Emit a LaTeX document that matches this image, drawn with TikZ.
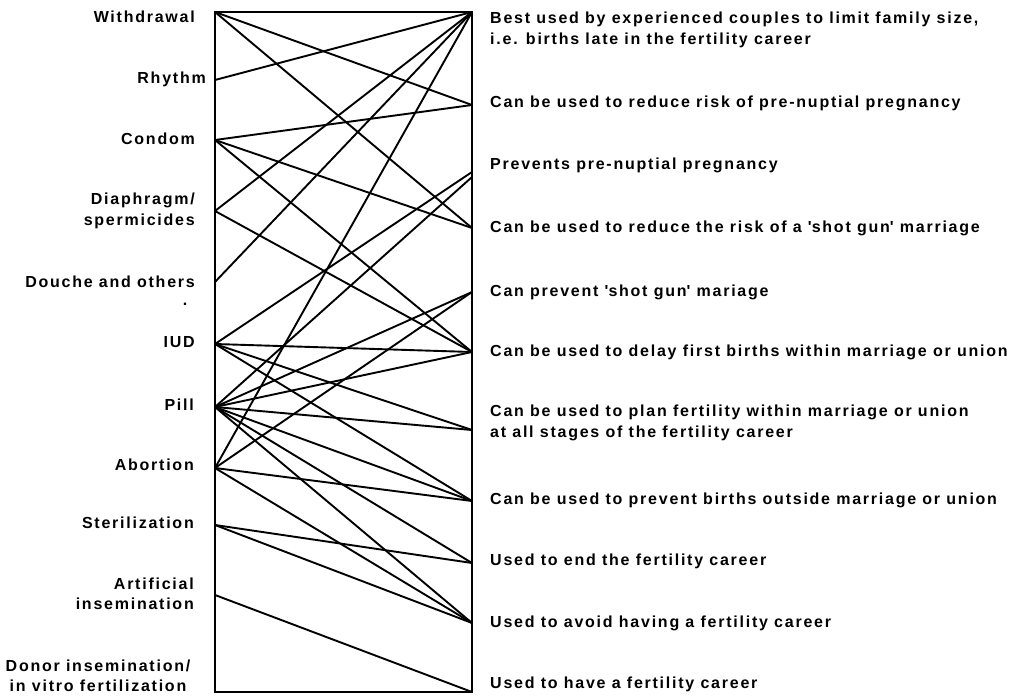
\documentclass[tikz,border=0pt]{standalone}
\usepackage{fontspec}
\setmainfont{Liberation Sans}[LetterSpace=11]
\begin{document}
\begin{tikzpicture}[x=1pt,y=-1pt,
  lbl/.style={font=\fontsize{16}{20.5}\selectfont\bfseries, inner sep=0pt},
  lefttxt/.style={lbl, anchor=east, align=right},
  righttxt/.style={lbl, anchor=west, align=left},
  link/.style={line width=1.9pt, line cap=round},
  frame/.style={line width=2.1pt}]
\useasboundingbox (0,0) rectangle (1020,700);
% anchor points on the left edge
\coordinate (LW) at (215,12);
\coordinate (LR) at (215,80);
\coordinate (LC) at (215,140);
\coordinate (LD) at (215,211);
\coordinate (LO) at (215,282);
\coordinate (LI) at (215,344);
\coordinate (LP) at (215,407);
\coordinate (LA) at (215,468);
\coordinate (LS) at (215,525);
\coordinate (LAI) at (215,595);
\coordinate (LDI) at (215,692);
% anchor points on the right edge
\coordinate (R1) at (472,12);
\coordinate (R2) at (472,105);
\coordinate (R3) at (472,172);
\coordinate (R3b) at (472,177);
\coordinate (R4) at (472,228);
\coordinate (R5) at (472,292);
\coordinate (R6) at (472,352);
\coordinate (R7) at (472,430);
\coordinate (R8) at (472,501);
\coordinate (R9) at (472,563);
\coordinate (R10) at (472,623);
\coordinate (R11) at (472,692);
% frame
\draw[frame] (LW) -- (R1) -- (R11) -- (LDI) -- cycle;
% left labels
\node[lefttxt] (tW) at (195,17) {Withdrawal};
\node[lefttxt] (tR) at (206,79) {Rhythm};
\node[lefttxt] (tC) at (195,139) {Condom};
\node[lefttxt] (tD) at (195,211) {Diaphragm/\\spermicides};
\node[lefttxt] (tO) at (195,282) {Douche and others};
\node[lbl] (tdot) at (185,304) {.};
\node[lefttxt] (tI) at (195,342) {IUD};
\node[lefttxt] (tP) at (194,405) {Pill};
\node[lefttxt] (tA) at (194,465) {Abortion};
\node[lefttxt] (tS) at (194,523) {Sterilization};
\node[lefttxt] (tAI) at (194,594) {Artificial\\insemination};
\node[lbl, align=center] (tDI) at (98,676) {Donor insemination/\\in vitro fertilization};
% right labels
\node[righttxt] (s1) at (490,30) {Best used by experienced couples to limit family size,\\i.e. births late in the fertility career};
\node[righttxt] (s2) at (490,103) {Can be used to reduce risk of pre-nuptial pregnancy};
\node[righttxt] (s3) at (490,165) {Prevents pre-nuptial pregnancy};
\node[righttxt] (s4) at (490,228) {Can be used to reduce the risk of a \textquotesingle shot gun\textquotesingle{} marriage};
\node[righttxt] (s5) at (490,292) {Can prevent \textquotesingle shot gun\textquotesingle{} mariage};
\node[righttxt] (s6) at (490,352) {Can be used to delay first births within marriage or union};
\node[righttxt] (s7) at (490,423) {Can be used to plan fertility within marriage or union\\at all stages of the fertility career};
\node[righttxt] (s8) at (490,500) {Can be used to prevent births outside marriage or union};
\node[righttxt] (s9) at (490,561) {Used to end the fertility career};
\node[righttxt] (s10) at (490,623) {Used to avoid having a fertility career};
\node[righttxt] (s11) at (490,684) {Used to have a fertility career};
% links
\draw[link] (LW) -- (R2);
\draw[link] (LW) -- (R4);
\draw[link] (LR) -- (R1);
\draw[link] (LC) -- (R2);
\draw[link] (LC) -- (R4);
\draw[link] (LC) -- (R6);
\draw[link] (LD) -- (R1);
\draw[link] (LD) -- (R6);
\draw[link] (LO) -- (R1);
\draw[link] (LI) -- (R3);
\draw[link] (LI) -- (R6);
\draw[link] (LI) -- (R7);
\draw[link] (LI) -- (R8);
\draw[link] (LP) -- (R3b);
\draw[link] (LP) -- (R5);
\draw[link] (LP) -- (R6);
\draw[link] (LP) -- (R7);
\draw[link] (LP) -- (R8);
\draw[link] (LP) -- (R9);
\draw[link] (LP) -- (R10);
\draw[link] (LA) -- (R1);
\draw[link] (LA) -- (R5);
\draw[link] (LA) -- (R8);
\draw[link] (LA) -- (R10);
\draw[link] (LS) -- (R9);
\draw[link] (LS) -- (R10);
\draw[link] (LAI) -- (R11);
\end{tikzpicture}
\end{document}
